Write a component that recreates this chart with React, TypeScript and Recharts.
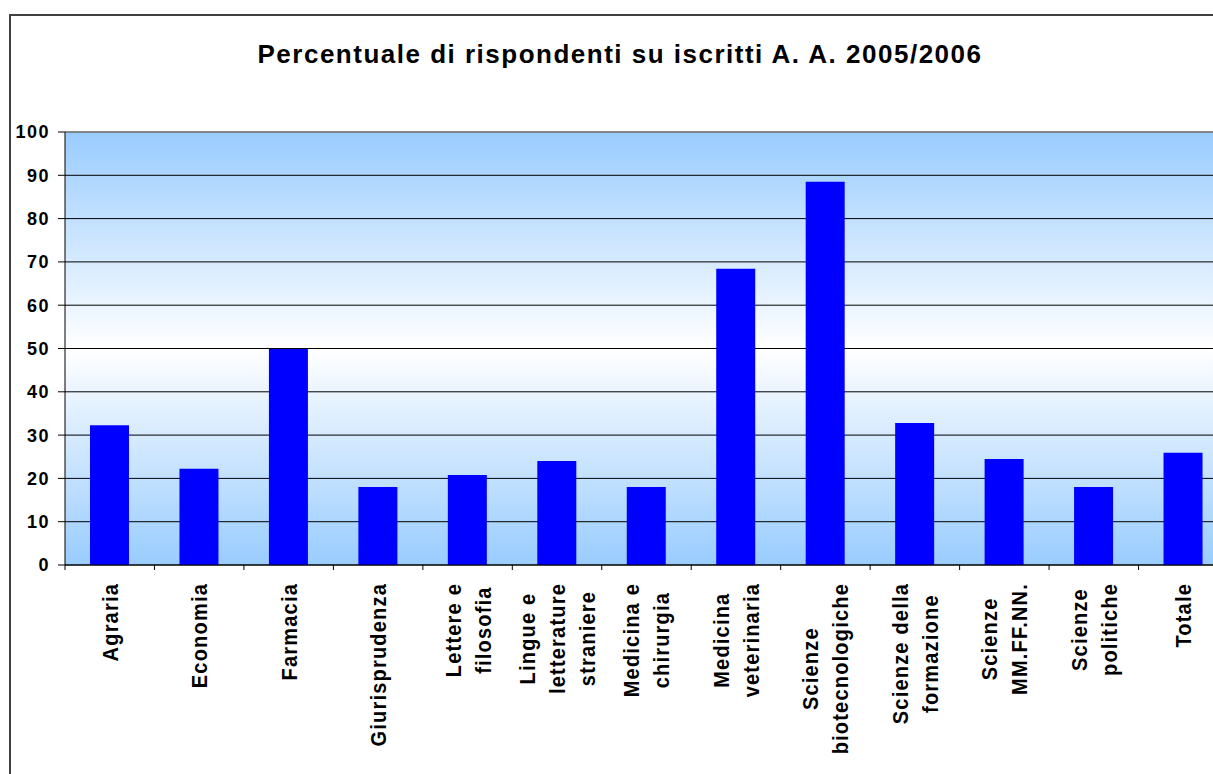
import React from "react";
import { BarChart, Bar, XAxis, YAxis, CartesianGrid, ReferenceLine } from "recharts";

// facoltà (the "\n" marks where the original label wraps)
const categories = [
  "Agraria",
  "Economia",
  "Farmacia",
  "Giurisprudenza",
  "Lettere e\nfilosofia",
  "Lingue e\nletterature\nstraniere",
  "Medicina e\nchirurgia",
  "Medicina\nveterinaria",
  "Scienze\nbiotecnologiche",
  "Scienze della\nformazione",
  "Scienze\nMM.FF.NN.",
  "Scienze\npolitiche",
  "Totale",
];

const percentuali = [32.3, 22.2, 49.9, 18.0, 20.8, 24.0, 18.0, 68.4, 88.5, 32.8, 24.5, 18.0, 25.9];

const yTicks = [0, 10, 20, 30, 40, 50, 60, 70, 80, 90, 100];

const title = "Percentuale di rispondenti su iscritti A. A. 2005/2006";

const data = categories.map((name, i) => ({ name, value: percentuali[i] }));

const FONT = "'Liberation Sans', Arial, Helvetica, sans-serif";
const LABEL_SIZE = 20;
const LABEL_SPACING = 1.2;
const LINE_STEP = 30;
const GLYPH_STRETCH = 1.1; // the original image is a bit stretched sideways

let ctx: CanvasRenderingContext2D | null = null;
const textWidth = (s: string) => {
  if (!ctx) ctx = document.createElement("canvas").getContext("2d");
  if (!ctx) return s.length * LABEL_SIZE * 0.6;
  ctx.font = `bold ${LABEL_SIZE}px 'Liberation Sans'`;
  return ctx.measureText(s).width + LABEL_SPACING * s.length;
};

const XTick = (props: any) => {
  const { x, y, payload, index } = props;
  const half = payload && payload.offset ? payload.offset : 44.7;
  const lines = String(payload.value).split("\n");
  const maxW = Math.max(...lines.map(textWidth));
  const cy = y + 18 + maxW / 2;
  const n = lines.length;
  return (
    <g>
      <line x1={x - half} x2={x - half} y1={y} y2={y + 5} stroke="#000" />
      {index === categories.length - 1 && (
        <line x1={x + half} x2={x + half} y1={y} y2={y + 5} stroke="#000" />
      )}
      {lines.map((l, i) => (
        <g
          key={i}
          transform={`translate(${x + (i - (n - 1) / 2) * LINE_STEP},${cy}) rotate(-90) scale(1,${GLYPH_STRETCH})`}
        >
          <text
            x={0}
            y={0}
            dy="0.36em"
            textAnchor="middle"
            fontFamily={FONT}
            fontSize={LABEL_SIZE}
            fontWeight="bold"
            letterSpacing={LABEL_SPACING}
            fill="#000"
          >
            {l}
          </text>
        </g>
      ))}
    </g>
  );
};

const YTick = (props: any) => {
  const { x, y, payload } = props;
  return (
    <text
      x={x}
      y={y}
      dy="0.36em"
      textAnchor="end"
      fontFamily={FONT}
      fontSize={18}
      fontWeight="bold"
      letterSpacing={1.5}
      fill="#000"
    >
      {payload.value}
    </text>
  );
};

export default function App() {
  return (
    <div
      style={{
        position: "absolute",
        left: 0,
        top: 0,
        width: 1213,
        height: 774,
        overflow: "hidden",
        background: "#fff",
      }}
    >
      <svg width={0} height={0} style={{ position: "absolute" }}>
        <defs>
          <linearGradient id="plotBg" x1="0" y1="0" x2="0" y2="1">
            <stop offset="0%" stopColor="#99CCFF" />
            <stop offset="50%" stopColor="#FFFFFF" />
            <stop offset="100%" stopColor="#99CCFF" />
          </linearGradient>
        </defs>
      </svg>
      <div
        style={{
          position: "absolute",
          left: 9,
          top: 14,
          width: 1300,
          height: 900,
          border: "2px solid #404040",
          boxSizing: "border-box",
        }}
      />
      <div
        style={{
          position: "absolute",
          left: 0,
          top: 41,
          width: 1240,
          textAlign: "center",
          fontFamily: FONT,
          fontSize: 26,
          lineHeight: "26px",
          fontWeight: "bold",
          letterSpacing: "1.5px",
          color: "#000",
        }}
      >
        {title}
      </div>
      <div style={{ position: "absolute", left: 0, top: 0 }}>
        <BarChart
          width={1240}
          height={774}
          data={data}
          margin={{ top: 132, right: 12, left: 9, bottom: 0 }}
        >
          <CartesianGrid
            vertical={false}
            stroke="#000"
            fill="url(#plotBg)"
            fillOpacity={1}
          />
          <ReferenceLine y={100} stroke="#8c8c8c" strokeWidth={1.5} />
          <XAxis
            dataKey="name"
            interval={0}
            height={209}
            axisLine={{ stroke: "#000" }}
            tickLine={false}
            tickSize={0}
            tickMargin={0}
            tick={<XTick />}
          />
          <YAxis
            width={56}
            domain={[0, 100]}
            ticks={yTicks}
            interval={0}
            axisLine={{ stroke: "#000" }}
            tickLine={{ stroke: "#000" }}
            tickSize={7}
            tickMargin={8}
            tick={<YTick />}
          />
          <Bar dataKey="value" fill="#0000FF" barSize={39} isAnimationActive={false} />
        </BarChart>
      </div>
    </div>
  );
}
